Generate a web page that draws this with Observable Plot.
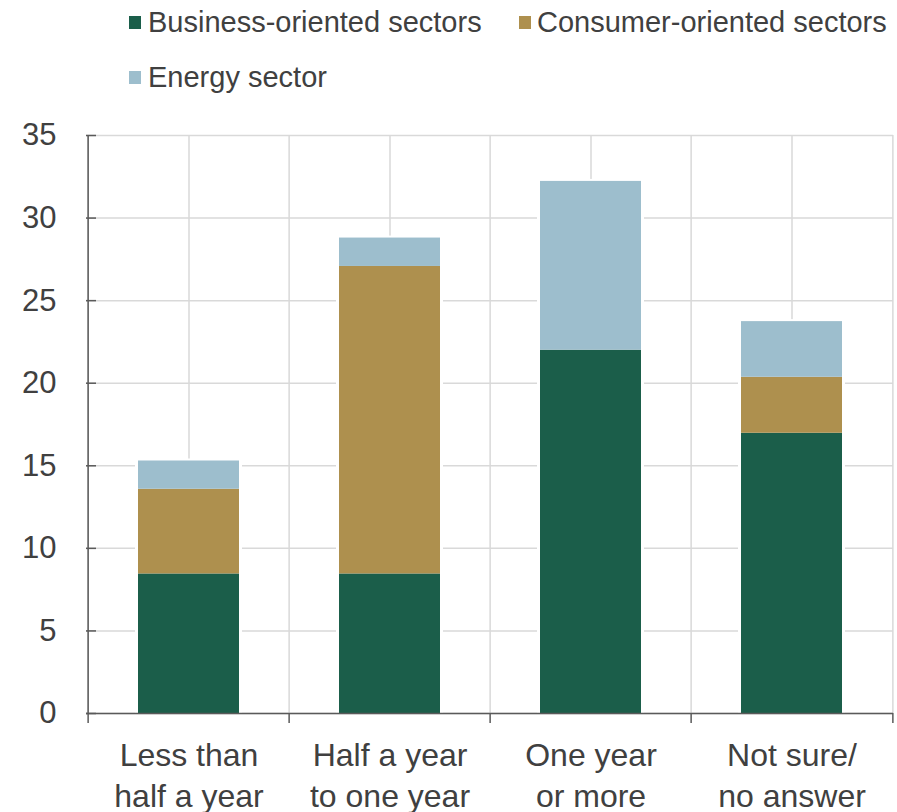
<!DOCTYPE html>
<html><head><meta charset="utf-8">
<script src="https://cdn.jsdelivr.net/npm/d3@7"></script>
<script src="https://cdn.jsdelivr.net/npm/@observablehq/plot@0.6"></script>
<style>
body{margin:0;background:#fff;font-family:"Liberation Sans",Arial,sans-serif;}
#wrap{position:relative;width:897px;height:812px;overflow:hidden;}
#legend{position:relative;height:105px;}
.sw{position:absolute;width:12px;height:13px;}
.lt{position:absolute;font-size:29px;line-height:29px;color:#404040;white-space:nowrap;}
</style></head><body>
<div id="wrap"><div id="legend"></div><div id="chart"></div></div>
<script>
const categories = ["Less than\nhalf a year", "Half a year\nto one year", "One year\nor more", "Not sure/\nno answer"];
const seriesNames = ["Business-oriented sectors", "Consumer-oriented sectors", "Energy sector"];
const business = [8.45, 8.45, 22.0, 16.97];
const consumer = [5.13, 18.62, 0, 3.39];
const energy = [1.71, 1.72, 10.22, 3.37];
const yTicks = [0, 5, 10, 15, 20, 25, 30, 35];
const colors = ["#1b5e4a", "#ae904e", "#9dbecd"];

// legend (HTML)
const legendPos = [{sx:129, tx:148, top:8}, {sx:519, tx:537, top:8}, {sx:129, tx:148, top:63}];
const legend = document.getElementById("legend");
seriesNames.forEach((name, i) => {
  const p = legendPos[i];
  const sw = document.createElement("div");
  sw.className = "sw"; sw.style.left = p.sx + "px"; sw.style.top = (p.top + 8) + "px";
  sw.style.background = colors[i];
  const t = document.createElement("div");
  t.className = "lt"; t.style.left = p.tx + "px"; t.style.top = p.top + "px";
  t.textContent = name;
  legend.appendChild(sw); legend.appendChild(t);
});

const W = 897, H = 707, ML = 86, MR = 4, MT = 30, MB = 99;
const step = (W - ML - MR) / categories.length;
const seriesValues = [business, consumer, energy];
const data = categories.flatMap((c, i) => seriesNames.map((s, j) => ({category: c, series: s, value: seriesValues[j][i]})));
const totals = categories.map((c, i) => ({category: c, total: d3.sum(seriesValues, v => v[i])}));
const grid = "#d9d9d9", axisC = "#5a5a5a";

const chart = Plot.plot({
  width: W, height: H, marginLeft: ML, marginRight: MR, marginTop: MT, marginBottom: MB,
  style: {fontFamily: "Liberation Sans, Arial, sans-serif", color: "#404040", background: "#fff", overflow: "visible"},
  x: {domain: categories, paddingInner: 0.5, paddingOuter: 0.25},
  y: {domain: [0, 35]},
  color: {domain: seriesNames, range: colors},
  marks: [
    Plot.ruleY(yTicks, {stroke: grid, strokeWidth: 1.5}),
    Plot.ruleX(categories, {stroke: grid, strokeWidth: 1.5}),
    Plot.ruleX(categories, {stroke: grid, strokeWidth: 1.5, dx: -step / 2}),
    Plot.ruleX(categories.slice(-1), {stroke: grid, strokeWidth: 1.5, dx: step / 2}),
    Plot.barY(totals, {x: "category", y: "total", fill: "white", insetLeft: -3, insetRight: -3, insetTop: -2}),
    Plot.barY(data, {x: "category", y: "value", fill: "series"}),
    Plot.ruleY([0], {stroke: axisC, strokeWidth: 1.5}),
    Plot.ruleX(categories.slice(0, 1), {stroke: axisC, strokeWidth: 1.5, dx: -step / 2}),
    Plot.ruleY(yTicks, {stroke: axisC, strokeWidth: 1.5, insetRight: (W - ML - MR) - 10}),
    Plot.ruleX(categories, {y1: 0, y2: 0, insetBottom: -10, stroke: axisC, strokeWidth: 1.5, dx: -step / 2}),
    Plot.ruleX(categories.slice(-1), {y1: 0, y2: 0, insetBottom: -10, stroke: axisC, strokeWidth: 1.5, dx: step / 2}),
    Plot.axisY({ticks: yTicks, tickSize: 0, tickPadding: 30, fontSize: 31, label: null}),
    Plot.axisX({tickSize: 0, tickPadding: 23, fontSize: 32, lineHeight: 1.28, label: null})
  ]
});
document.getElementById("chart").appendChild(chart);
</script>
</body></html>
